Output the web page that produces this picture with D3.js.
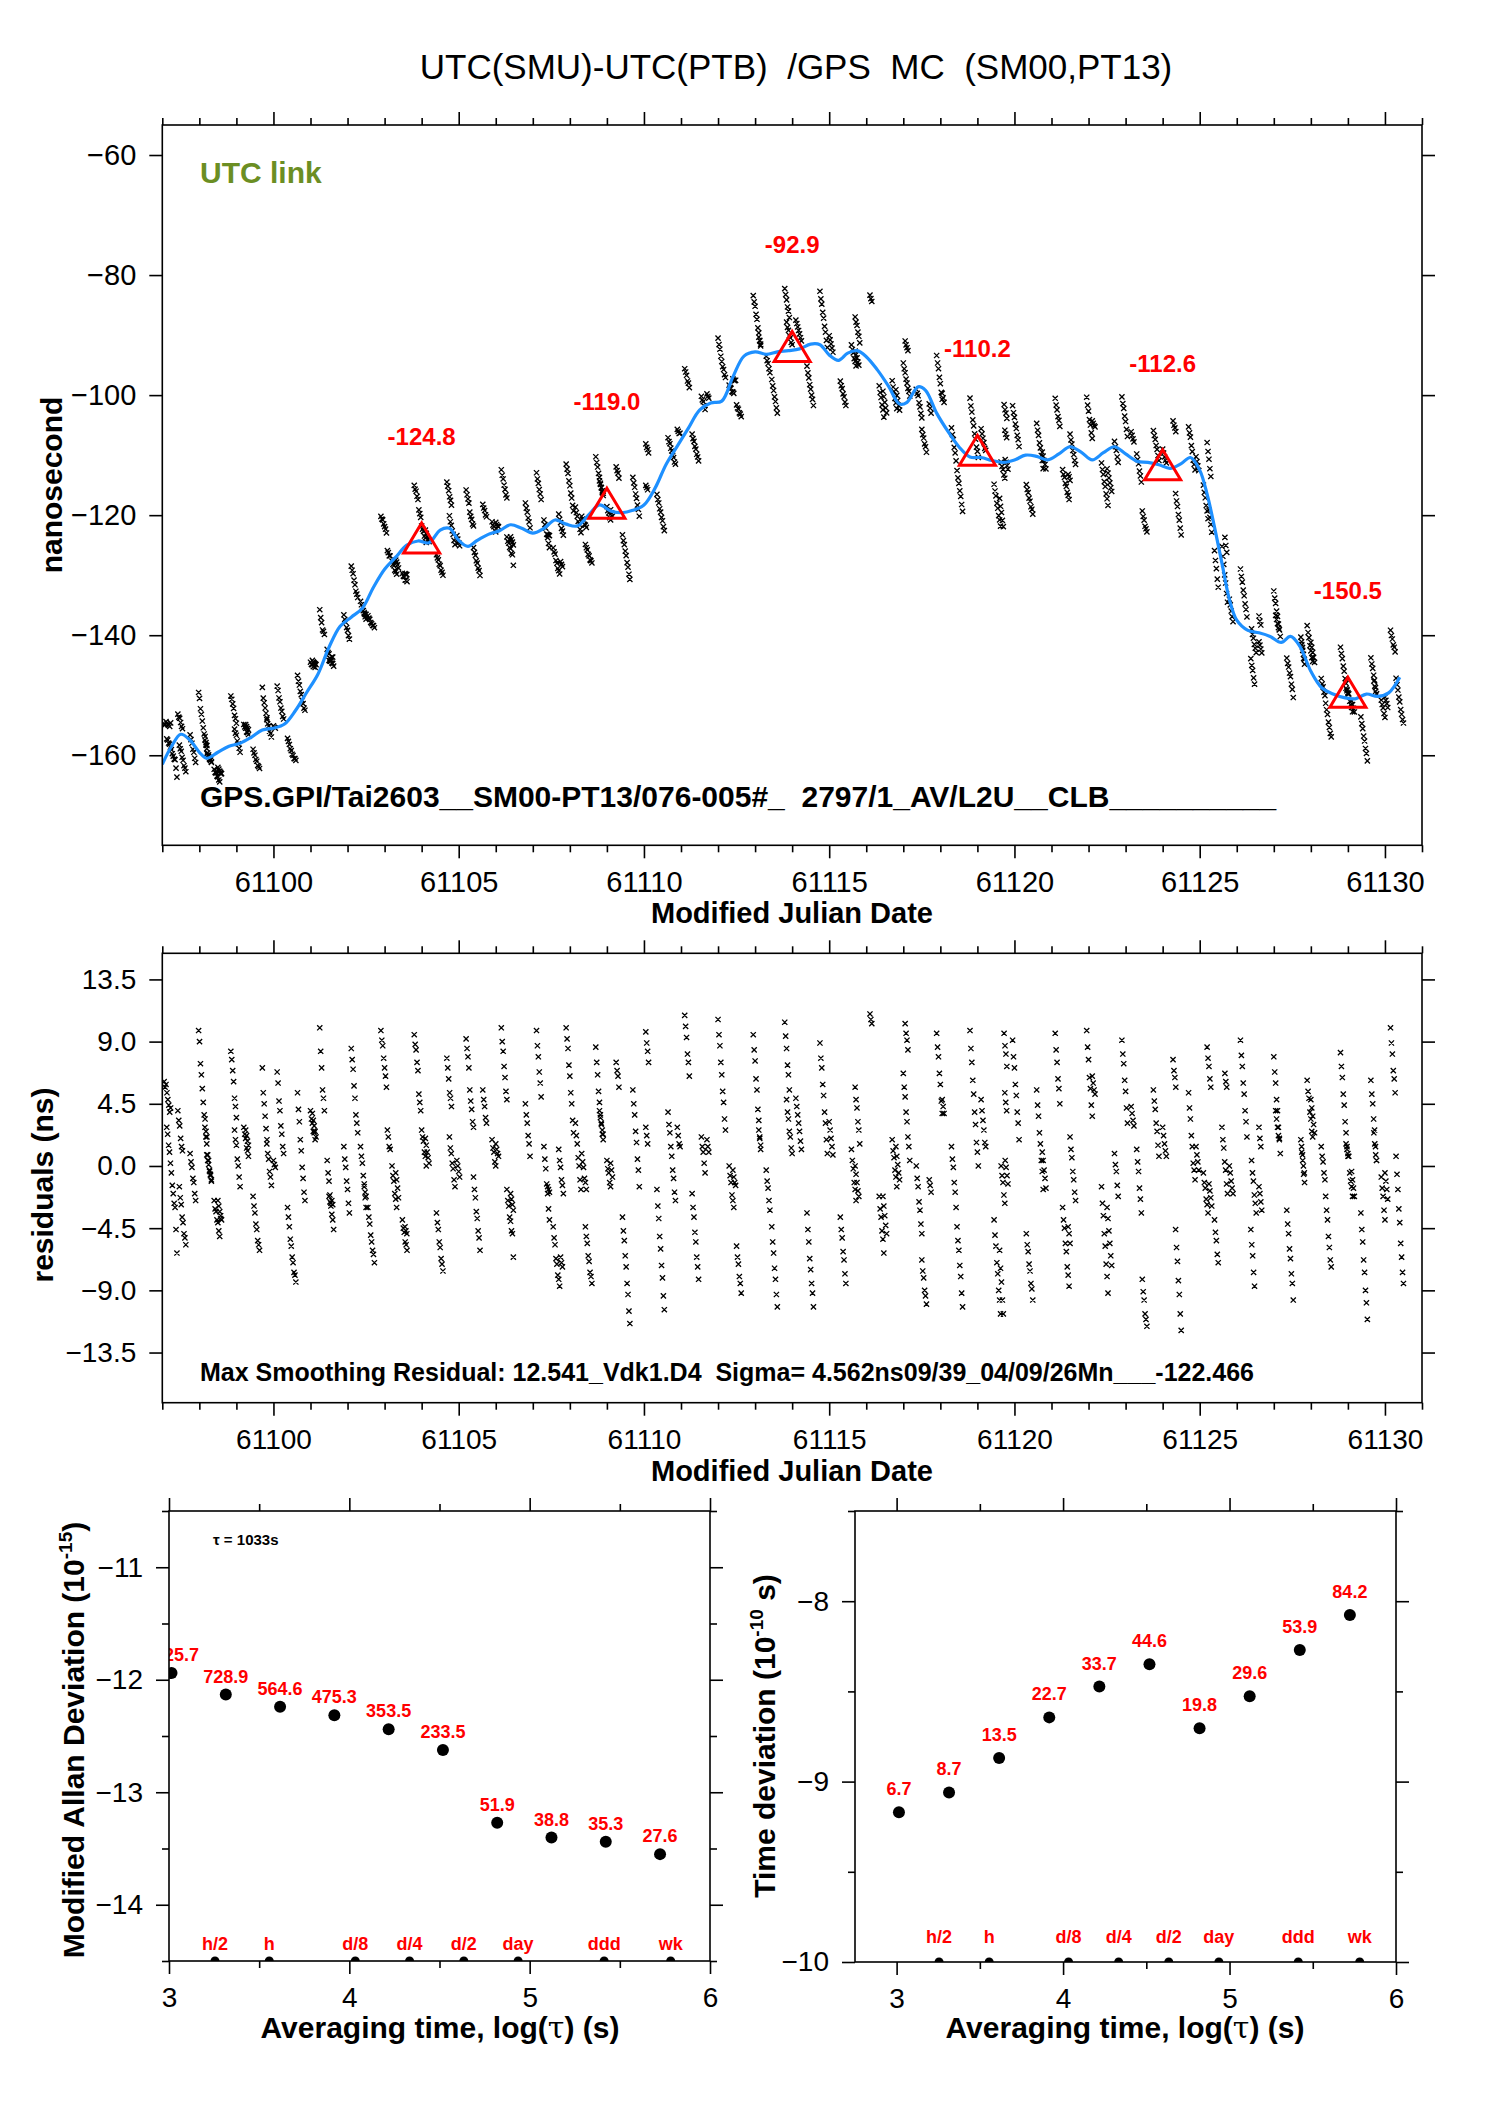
<!DOCTYPE html>
<html><head><meta charset="utf-8">
<script src="https://cdn.jsdelivr.net/npm/d3@7"></script>
<style>body{margin:0;background:#fff}</style>
</head><body><svg id="c" width="1488" height="2105" xmlns="http://www.w3.org/2000/svg"></svg>
<script>
// ---------------- DATA ----------------
const titleText = "UTC(SMU)-UTC(PTB)  /GPS  MC  (SM00,PT13)";
const footerText = "GPS.GPI/Tai2603__SM00-PT13/076-005#_  2797/1_AV/L2U__CLB__________";
const residText = "Max Smoothing Residual: 12.541_Vdk1.D4  Sigma= 4.562ns09/39_04/09/26Mn___-122.466";

const mjdTicks = [61100, 61105, 61110, 61115, 61120, 61125, 61130];
const nsTicks = [-60, -80, -100, -120, -140, -160];
const resTicks = [13.5, 9.0, 4.5, 0.0, -4.5, -9.0, -13.5];

// smoothed curve (MJD, ns)
const smoothT = [61097.0,61097.25,61097.5,61097.75,61098.0,61098.2,61098.5,61098.8,61099.1,61099.4,61099.7,61100.0,61100.3,61100.6,61100.9,61101.2,61101.5,61101.8,61102.1,61102.4,61102.7,61103.0,61103.3,61103.6,61103.9,61104.2,61104.5,61104.75,61105.0,61105.25,61105.5,61105.8,61106.1,61106.4,61106.7,61107.0,61107.3,61107.6,61107.9,61108.2,61108.5,61108.8,61109.1,61109.4,61109.7,61110.0,61110.3,61110.6,61110.9,61111.2,61111.5,61111.8,61112.1,61112.4,61112.7,61113.0,61113.3,61113.6,61113.9,61114.2,61114.5,61114.75,61115.0,61115.25,61115.5,61115.75,61116.0,61116.3,61116.6,61116.9,61117.1,61117.4,61117.6,61117.9,61118.2,61118.5,61118.8,61119.1,61119.4,61119.7,61120.0,61120.3,61120.6,61120.9,61121.2,61121.5,61121.8,61122.1,61122.4,61122.7,61123.0,61123.3,61123.6,61123.9,61124.2,61124.5,61124.75,61125.0,61125.2,61125.4,61125.6,61125.8,61126.0,61126.3,61126.6,61126.9,61127.2,61127.45,61127.7,61128.0,61128.3,61128.6,61128.9,61129.2,61129.5,61129.8,61130.1,61130.4];
const smoothV = [-161.5,-158.5,-156.5,-157.5,-159.5,-160.5,-159.5,-158.5,-158.0,-157.0,-155.8,-155.5,-154.8,-152.5,-149.5,-146.5,-142,-138.5,-137,-135.5,-132,-129,-127,-125,-124.3,-124.6,-122.5,-122.2,-124.2,-125.2,-124.2,-123.2,-122.6,-121.6,-122.2,-123.0,-122.2,-120.8,-121.5,-121.8,-120.0,-118.3,-119.3,-119.6,-119.2,-118.3,-115.5,-111.5,-108.5,-105.5,-102.5,-101.3,-101.0,-97,-93.5,-92.8,-93.2,-92.8,-92.6,-92.3,-91.5,-91.6,-93.3,-94.2,-93.0,-92.6,-93.6,-95.8,-98.5,-101.5,-101.2,-98.6,-99.2,-103,-106,-108.6,-110.3,-110.4,-110.9,-111.2,-110.8,-110.0,-110.2,-110.8,-109.8,-108.6,-109.5,-110.8,-109.6,-108.6,-109.8,-111.0,-111.2,-111.6,-112.2,-111.4,-110.4,-112.5,-116.5,-122,-128,-134,-137.5,-139.2,-139.6,-140.2,-141.2,-140.2,-141.8,-146,-148.8,-149.8,-150.4,-150.6,-149.8,-150.2,-149.6,-147];

// 5-day averages (triangles)
const avgT = [61104, 61109, 61114, 61119, 61124, 61129];
const avgV = [-124.8, -119.0, -92.9, -110.2, -112.6, -150.5];
const avgLabels = ["-124.8", "-119.0", "-92.9", "-110.2", "-112.6", "-150.5"];

// residual tracks: [start MJD, residual values (ns)] ; points spaced trackStep days
const trackStep = 0.025;
const tracks = [
[61097.05,[6.1,5.7,5.9,5.3,4.8,4.4,3.9,4.2]],
[61097.12,[2.8,2.3,1.5,1.0,0.2,-0.5,-1.4,-2.0,-2.7,-3.0,-4.6,-6.3]],
[61097.42,[4.0,3.3,2.9,2.0,1.4,1.1]],
[61097.46,[-1.5,-2.3,-2.8,-3.7,-4.1,-4.9,-5.2,-5.7]],
[61097.75,[0.9,0.3,-0.1,-0.9,-1.2,-2.0,-2.5]],
[61097.98,[9.8,9.0,7.4,6.6,5.6,4.6,3.7,3.4,2.5,2.1]],
[61098.15,[2.8,2.1,1.6,0.8,0.4,-0.4,-0.7,-1.1]],
[61098.40,[-2.5,-3.1,-3.3,-3.9,-4.1,-4.7,-5.1,-3.8]],
[61098.85,[8.3,7.7,6.9,6.1,4.9,4.3,3.5]],
[61098.95,[2.6,1.9,1.5,0.5,0.0,-0.8,-1.5]],
[61099.20,[2.8,2.3,2.0,1.3,1.1,0.7]],
[61099.45,[-2.2,-2.9,-3.4,-4.2,-4.6,-5.4,-5.7,-6.1]],
[61099.70,[7.1,5.3,4.5,3.6,2.7,1.9]],
[61099.82,[1.6,0.9,0.5,-0.4,-0.8,-1.4]],
[61100.10,[6.8,6.0,4.7,4.0,2.9,2.3,1.4,0.9]],
[61100.38,[-3.0,-3.7,-4.4,-5.3,-5.8,-6.6,-7.0,-7.7,-7.9,-8.4]],
[61100.65,[5.3,4.1,3.2,1.9,1.1,-0.1,-0.9,-1.9,-2.5]],
[61101.00,[4.0,3.4,3.1,2.5,2.4,1.9]],
[61101.25,[10.0,8.3,7.1,5.5,4.9,4.0]],
[61101.45,[0.4,-0.5,-1.1,-2.1,-2.7,-3.5,-3.9,-4.6]],
[61101.90,[1.4,0.5,-0.1,-1.1,-1.7,-2.7,-3.4]],
[61102.10,[8.5,7.7,7.0,5.8,4.9,3.7,3.1,2.4]],
[61102.35,[1.4,0.7,0.2,-0.7,-1.3,-2.3,-3.0]],
[61102.55,[-3.0,-3.7,-4.2,-5.0,-5.5,-6.1,-6.4,-7.0]],
[61102.90,[9.8,9.1,8.7,7.8,7.1,6.5,5.7,2.6,2.1,1.4,1.2]],
[61103.20,[0.0,-0.7,-1.1,-2.0,-2.4,-3.0]],
[61103.48,[-3.9,-4.5,-4.8,-5.5,-5.7,-6.1]],
[61103.80,[9.5,8.8,8.4,7.5,6.9,5.2,4.6,4.0]],
[61104.00,[2.6,2.1,1.8,1.0,0.7,0.0]],
[61104.40,[-3.4,-4.1,-4.6,-5.5,-5.9,-6.7,-7.1,-7.6]],
[61104.68,[7.8,7.1,6.3,5.3,4.9,4.3]],
[61104.75,[2.1,1.3,0.9,0.2,-0.2,-1.0,-1.5]],
[61105.20,[9.2,8.5,7.9,7.1,5.5,4.7,4.1,3.2,2.8]],
[61105.40,[-0.8,-1.7,-2.3,-3.3,-3.8,-4.7,-5.2,-6.1]],
[61105.65,[5.5,4.8,4.3,3.5,3.1]],
[61105.90,[1.9,1.3,1.0,0.3,0.0]],
[61106.15,[10.0,9.0,8.3,7.2,6.4,5.4,4.8]],
[61106.30,[-1.7,-2.5,-2.9,-3.7,-4.0,-4.7,-4.9,-6.6]],
[61106.80,[4.5,3.7,3.1,2.2,1.6,0.7]],
[61107.10,[9.8,8.7,7.9,6.8,6.0,5.0]],
[61107.30,[1.4,0.5,-0.2,-1.3,-2.0,-3.1,-3.9]],
[61107.55,[-4.4,-5.2,-5.7,-6.7,-7.1,-7.9,-8.2,-8.7]],
[61107.70,[1.2,0.4,-0.1,-1.0,-1.4,-2.0]],
[61107.90,[10.0,9.2,8.5,7.3,6.5,5.3,4.5,3.3,2.4]],
[61108.15,[3.1,2.2,1.6,0.6,0.0,-1.0,-1.7]],
[61108.32,[0.9,0.3,-0.1,-0.9,-1.2,-1.7]],
[61108.42,[-4.4,-5.1,-5.6,-6.5,-6.9,-7.7,-8.0,-8.5]],
[61108.70,[8.6,7.5,6.6,5.4,4.6,3.7,3.1,2.3,1.9]],
[61109.00,[0.4,-0.2,-0.5,-1.2,-1.5]],
[61109.25,[7.5,6.9,6.5,5.7]],
[61109.42,[-3.7,-4.7,-5.4,-6.5,-7.3,-8.5,-9.3,-10.5,-11.4]],
[61109.70,[5.5,4.5,3.7,2.5,1.7,0.5,-0.3,-1.5]],
[61110.05,[9.7,8.9,8.3,7.5]],
[61110.35,[-1.7,-2.9,-3.8,-5.1,-6.0,-7.2,-8.1,-9.4,-10.4]],
[61110.65,[3.9,3.0,2.4,1.4,0.7,-0.3,-0.9,-1.9,-2.5]],
[61111.10,[10.9,10.1,9.3,8.1,7.5,6.5]],
[61111.30,[-2.0,-3.0,-3.7,-4.8,-5.5,-6.6,-7.3,-8.2]],
[61111.55,[2.1,1.4,1.0,0.2,-0.5]],
[61112.00,[10.6,9.5,8.7,7.5,6.6,5.4,4.6,3.4,2.6]],
[61112.30,[0.0,-0.7,-1.2,-2.1,-2.5,-3.0]],
[61112.50,[-5.8,-6.6,-7.1,-8.0,-8.5,-9.2]],
[61112.95,[9.5,8.4,7.6,6.3,5.5,4.1,3.3,2.1,1.2]],
[61113.30,[-0.3,-1.1,-1.6,-2.5,-3.2]],
[61113.45,[-4.4,-5.5,-6.3,-7.4,-8.2,-9.3,-10.2]],
[61113.80,[10.4,9.4,8.5,7.3,6.6,5.5]],
[61113.85,[4.8,3.9,3.4,2.5,2.1,1.3,0.9]],
[61114.40,[-3.4,-4.6,-5.5,-6.7,-7.5,-8.5,-9.2,-10.2]],
[61114.75,[8.9,7.8,7.1,5.9,5.1,3.9,3.1,1.9,0.9]],
[61115.30,[-3.7,-4.6,-5.2,-6.2,-6.8,-7.8,-8.5]],
[61115.60,[1.2,0.4,-0.2,-1.2,-1.7,-2.5]],
[61115.70,[5.7,4.8,4.2,3.2,2.6,1.6]],
[61116.10,[11.0,10.6,10.3]],
[61116.35,[-2.2,-3.1,-3.7,-4.7,-5.3,-6.3]],
[61116.70,[1.9,1.1,0.6,-0.3,-0.8,-1.5]],
[61117.05,[10.3,9.6,9.1,8.4]],
[61117.00,[6.7,5.7,5.0,3.9,3.2,2.1,1.4,0.4]],
[61117.35,[0.0,-0.9,-1.5,-2.6,-3.2,-4.2,-4.9]],
[61117.50,[-6.8,-7.6,-8.1,-9.0,-9.4,-10.0]],
[61117.90,[9.6,8.6,7.9,6.7,5.9,4.7,3.8]],
[61118.30,[1.4,0.5,-0.1,-1.2,-1.9,-3.0]],
[61118.45,[-4.4,-5.4,-6.1,-7.2,-8.0,-9.2,-10.2]],
[61118.80,[9.8,8.5,7.5,6.2,5.2,3.9,3.0,1.7,1.0,0.0]],
[61119.45,[-3.9,-5.0,-5.8,-7.0,-7.8,-9.0,-9.7,-10.7]],
[61119.64,[0.0,-0.7,-1.2,-2.1,-2.7]],
[61119.72,[9.6,8.7,8.1,7.2]],
[61119.74,[5.3,4.6,4.0]],
[61119.60,[-6.1,-7.4,-8.4,-9.7,-10.7]],
[61119.95,[9.1,7.9,7.1,5.9,5.1,3.9,3.1,1.9]],
[61120.32,[-4.9,-5.7,-6.2,-7.1,-7.6,-8.5,-8.9,-9.7]],
[61120.60,[5.5,4.4,3.6,2.4,1.6,0.4,-0.4,-1.7]],
[61121.10,[9.6,8.4,7.5,6.3,5.6,4.5]],
[61121.30,[-3.0,-3.9,-4.5,-5.6,-6.2,-7.3,-7.9,-8.7]],
[61121.50,[2.1,1.2,0.6,-0.4,-1.0,-1.9,-2.5]],
[61121.95,[9.8,8.6,7.7,6.4,5.6,4.4,3.6]],
[61122.35,[-1.5,-2.7,-3.6,-4.9,-5.8,-7.1,-8.0,-9.2]],
[61122.70,[0.9,0.1,-0.4,-1.4,-2.2]],
[61122.90,[9.1,8.1,7.4,6.2,5.4,4.2,3.1]],
[61123.30,[1.2,0.3,-0.4,-1.6,-2.4,-3.4]],
[61123.45,[-8.2,-9.1,-9.7,-10.7,-11.1,-11.6]],
[61123.75,[5.5,4.7,4.1,3.1,2.5,1.5,0.7]],
[61124.28,[7.7,6.9,6.4,5.7]],
[61124.35,[-4.6,-5.9,-6.9,-8.3,-9.3,-10.7,-11.9]],
[61124.70,[5.3,4.2,3.4,2.2,1.4,0.2,-0.3,-1.0]],
[61125.10,[-0.5,-1.2,-1.6,-2.4,-2.8,-3.4]],
[61125.20,[8.6,7.8,7.2,6.3,5.7]],
[61125.40,[-3.9,-4.8,-5.4,-6.4,-7.0]],
[61125.60,[2.8,1.9,1.3,0.3,-0.3,-1.3,-2.0]],
[61125.68,[6.7,6.1,5.7]],
[61126.10,[9.1,8.0,7.2,6.0,5.2,4.0,3.2,2.1]],
[61126.40,[0.4,-0.5,-1.1,-2.1,-2.7,-3.4]],
[61126.38,[-4.6,-5.7,-6.5,-7.7,-8.7]],
[61126.60,[2.8,2.0,1.4]],
[61127.00,[7.9,6.8,6.0,4.8,4.0,2.8,2.0,0.9]],
[61127.35,[-3.2,-4.2,-4.9,-6.0,-6.7,-7.8,-8.5,-9.7]],
[61127.73,[1.9,1.0,0.4,-0.6,-1.2]],
[61127.90,[6.2,5.4,4.9,3.9,3.4,2.5,2.1]],
[61128.28,[1.4,0.7,0.3,-0.5,-1.0]],
[61128.40,[-2.2,-3.2,-3.9,-5.1,-5.9,-6.8,-7.3]],
[61128.80,[8.2,7.2,6.4,5.2,4.4,3.2,2.4,1.4,0.7]],
[61129.05,[-0.5,-1.1,-1.5,-2.2]],
[61129.35,[-3.4,-4.6,-5.5,-6.8,-7.7,-9.0,-9.9,-11.1]],
[61129.62,[6.2,5.2,4.5,3.4,2.6,1.4,0.4]],
[61129.90,[-0.8,-1.6,-2.2,-3.2,-3.9]],
[61130.15,[10.0,8.9,8.1,6.9,6.3,5.3]],
[61130.30,[0.7,-0.6,-1.7,-3.1,-4.1,-5.6,-6.6,-7.7,-8.5]],
// dense mid-range clusters
[61098.20,[0.8,0.4,0.1,-0.3,-0.6,-1.0]],
[61098.50,[-2.5,-2.9,-3.3,-3.6,-3.9]],
[61099.25,[2.6,2.2,1.8,1.5]],
[61100.00,[0.4,0.1,-0.1]],
[61101.05,[3.8,3.3,2.9,2.5,2.1]],
[61101.50,[-2.2,-2.6,-2.9,-2.5,-2.8]],
[61102.45,[-1.5,-1.9,-2.2]],
[61103.30,[-0.5,-1.0,-1.6,-2.3]],
[61103.55,[-4.4,-4.7,-4.9]],
[61104.10,[2.0,1.5,1.0,0.6,0.2]],
[61104.95,[0.4,0.0,-0.4,-0.8]],
[61106.00,[1.6,1.2,0.9,0.7]],
[61106.40,[-2.0,-2.4,-2.8,-3.2]],
[61107.40,[-1.5,-1.7,-1.9]],
[61107.75,[-6.6,-7.0,-7.3]],
[61108.80,[4.0,3.5,3.0,2.6,2.3]],
[61109.10,[0.2,-0.3,-0.8]],
[61110.05,[2.8,2.2,1.6]],
[61110.90,[2.8,2.2,1.6,1.4]],
[61111.70,[1.9,1.4,1.0]],
[61112.40,[-0.3,-0.8,-1.2,-1.4]],
[61113.10,[2.6,2.0,1.5]],
[61114.10,[4.9,4.3,3.7,3.1,2.5,1.8,1.2]],
[61115.00,[3.2,2.6,2.0,1.4,0.8]],
[61115.70,[0.0,-0.6,-1.2,-1.8,-2.2]],
[61116.45,[-2.2,-2.9,-3.6,-4.3,-4.9]],
[61116.80,[1.4,0.7,0.1,-0.5,-1.0]],
[61117.70,[-1.0,-1.4,-1.9]],
[61118.05,[4.8,4.3,3.8]],
[61119.10,[4.8,4.0,3.3,2.6,1.7,1.4]],
[61119.75,[0.4,-0.1,-0.7,-1.3]],
[61120.75,[1.0,0.4,-0.3,-0.9,-1.6]],
[61121.45,[-4.4,-4.9,-5.6]],
[61122.10,[6.5,6.0,5.5,5.2]],
[61122.50,[-3.0,-3.8,-4.7,-5.6,-6.5,-7.2]],
[61123.15,[4.3,3.8,3.3,2.9]],
[61124.00,[2.8,2.2,1.6,1.1,0.7]],
[61124.90,[1.4,0.8,0.3,-0.3]],
[61125.25,[-1.3,-1.8,-2.3,-2.9]],
[61125.80,[0.0,-0.5,-1.1,-1.6,-2.0]],
[61126.60,[-1.5,-2.0,-2.6,-3.2]],
[61127.05,[4.0,3.4,2.8,2.2,1.9]],
[61127.75,[1.4,0.8,0.0,-0.5]],
[61128.00,[4.8,4.2,3.6,3.0,2.4]],
[61128.95,[1.6,1.2,0.9,0.7]],
[61129.10,[-0.4,-1.0,-1.6,-2.2]],
[61130.00,[-0.5,-1.1,-1.7,-2.4]],
[61129.70,[2.4,1.6,0.8,0.4]]
];

// stability analysis
const logTau = [3.014, 3.315, 3.616, 3.917, 4.218, 4.519, 4.820, 5.121, 5.422, 5.723];
const madev = [-11.941, -12.132, -12.241, -12.315, -12.441, -12.624, -13.271, -13.403, -13.440, -13.550];
const madevLabels = ["1025.7", "728.9", "564.6", "475.3", "353.5", "233.5", "51.9", "38.8", "35.3", "27.6"];
const tdev = [-9.170, -9.060, -8.869, -8.644, -8.473, -8.350, -8.704, -8.527, -8.270, -8.077];
const tdevLabels = ["6.7", "8.7", "13.5", "22.7", "33.7", "44.6", "19.8", "29.6", "53.9", "84.2"];
const markNames = ["h/2", "h", "d/8", "d/4", "d/2", "day", "ddd", "wk"];
const markLogTau = [3.255, 3.556, 4.033, 4.334, 4.635, 4.936, 5.413, 5.782];
const tauTicks = [3, 4, 5, 6];
const tauMinor = [3.5, 4.5, 5.5];
const madevTicks = [-11, -12, -13, -14];
const madevMinor = [-10.5, -11.5, -12.5, -13.5, -14.5];
const tdevTicks = [-8, -9, -10];
const tdevMinor = [-7.5, -8.5, -9.5];

// ---------------- DRAW ----------------
const F = '"Liberation Sans", Arial, Helvetica, sans-serif';
const svg = d3.select("#c");
svg.append("rect").attr("width", 1488).attr("height", 2105).attr("fill", "#fff");

const xTop = d3.scaleLinear([61097, 61131], [162.3, 1422]);
const yTop = d3.scaleLinear([-175, -55], [845.3, 125]);
const yRes = d3.scaleLinear([-17.13, 15.39], [1402.7, 953.3]);
const xBL = d3.scaleLinear([3, 6], [169, 710]);
const yBL = d3.scaleLinear([-14.5, -10.5], [1961, 1511]);
const xBR = d3.scaleLinear([2.75, 6], [855, 1396]);
const yBR = d3.scaleLinear([-10, -7.5], [1962, 1511]);
const smoothAt = d3.scaleLinear(smoothT, smoothV);

const defs = svg.append("defs");
function clip(id, x, y) {
  const [a, b] = x.range(), [c, d] = y.range();
  defs.append("clipPath").attr("id", id).append("rect")
    .attr("x", a).attr("y", d).attr("width", b - a).attr("height", c - d);
  return `url(#${id})`;
}

function axes(p) {
  const [x0, x1] = p.x.range(), [y0, y1] = p.y.range();
  const g = svg.append("g");
  const mk = (gen, tr, vals, size, fmt) => {
    const a = g.append("g").attr("transform", tr)
      .call(gen.tickValues(vals).tickSize(size).tickSizeOuter(0).tickPadding(size === 13 ? p.pad : 3)
        .tickFormat(fmt || (() => "")));
    a.select(".domain").remove();
    a.selectAll("line").attr("stroke", "#000").attr("stroke-width", 1.6);
    a.selectAll("text").attr("font-size", p.fs).attr("font-family", F).attr("fill", "#000");
  };
  mk(d3.axisBottom(p.x), `translate(0,${y0})`, p.xMajor, 13, p.xFmt);
  mk(d3.axisBottom(p.x), `translate(0,${y0})`, p.xMinor, 7);
  mk(d3.axisTop(p.x), `translate(0,${y1})`, p.xMajor, 13);
  mk(d3.axisTop(p.x), `translate(0,${y1})`, p.xMinor, 7);
  mk(d3.axisLeft(p.y), `translate(${x0},0)`, p.yMajor, 13, p.yFmt);
  mk(d3.axisRight(p.y), `translate(${x1},0)`, p.yMajor, 13);
  if (p.yMinor) {
    mk(d3.axisLeft(p.y), `translate(${x0},0)`, p.yMinor, 7);
    mk(d3.axisRight(p.y), `translate(${x1},0)`, p.yMinor, 7);
  }
  g.append("rect").attr("x", x0).attr("y", y1).attr("width", x1 - x0).attr("height", y0 - y1)
    .attr("fill", "none").attr("stroke", "#000").attr("stroke-width", 1.6);
}

function text(x, y, s, o = {}) {
  const t = svg.append("text").attr("x", x).attr("y", y).text(s)
    .attr("font-family", F).attr("font-size", o.fs || 28).attr("fill", o.fill || "#000")
    .attr("font-weight", o.bold ? "bold" : "normal").attr("text-anchor", o.anchor || "start")
    .style("white-space", "pre");
  if (o.rot) t.attr("transform", `rotate(-90,${x},${y})`);
  return t;
}
function crosses(pts, cl) {
  const h = 2.6;
  const p = d3.path();
  pts.forEach(([x, y]) => { p.moveTo(x - h, y - h); p.lineTo(x + h, y + h); p.moveTo(x - h, y + h); p.lineTo(x + h, y - h); });
  svg.append("path").attr("d", p.toString()).attr("fill", "none").attr("stroke", "#000")
    .attr("stroke-width", 1.3).attr("clip-path", cl);
}

// flatten residual tracks
const resPts = [];
tracks.forEach(([t0, vals]) => vals.forEach((v, i) => resPts.push([t0 + i * trackStep, v])));

// ---------- Title ----------
text(796, 79, titleText, { fs: 35, anchor: "middle" });

// ---------- Panel 1 ----------
const c1 = clip("c1", xTop, yTop);
crosses(resPts.map(([t, r]) => [xTop(t), yTop(smoothAt(t) + r)]), c1);
svg.append("path").datum(smoothT.map((t, i) => [t, smoothV[i]]))
  .attr("d", d3.line().x(d => xTop(d[0])).y(d => yTop(d[1])).curve(d3.curveCatmullRom))
  .attr("fill", "none").attr("stroke", "#1e90ff").attr("stroke-width", 3.2).attr("clip-path", c1);
avgT.forEach((t, i) => {
  const x = xTop(t), y = yTop(avgV[i]);
  const p = d3.path(); p.moveTo(x, y - 21); p.lineTo(x + 18, y + 9); p.lineTo(x - 18, y + 9); p.closePath();
  svg.append("path").attr("d", p.toString()).attr("fill", "none").attr("stroke", "#ff0000").attr("stroke-width", 3);
  text(x, y - 99, avgLabels[i], { fs: 24, bold: true, fill: "#ff0000", anchor: "middle" });
});
axes({ x: xTop, y: yTop, xMajor: mjdTicks, xMinor: d3.range(61097, 61132).filter(d => d % 5 !== 0),
  yMajor: nsTicks, xFmt: d3.format("d"), yFmt: d3.format("d"), fs: 29, pad: 13 });
text(200, 183, "UTC link", { fs: 30, bold: true, fill: "#6b8e23" });
text(200, 807, footerText, { fs: 30, bold: true });
text(792, 923, "Modified Julian Date", { fs: 29, bold: true, anchor: "middle" });
text(62, 485, "nanosecond", { fs: 30, bold: true, anchor: "middle", rot: true });

// ---------- Panel 2 ----------
const c2 = clip("c2", xTop, yRes);
crosses(resPts.map(([t, r]) => [xTop(t), yRes(r)]), c2);
axes({ x: xTop, y: yRes, xMajor: mjdTicks, xMinor: d3.range(61097, 61132).filter(d => d % 5 !== 0),
  yMajor: resTicks, xFmt: d3.format("d"), yFmt: d3.format(".1f"), fs: 28, pad: 13 });
text(200, 1381, residText, { fs: 25, bold: true });
text(792, 1481, "Modified Julian Date", { fs: 29, bold: true, anchor: "middle" });
text(53, 1185, "residuals (ns)", { fs: 30, bold: true, anchor: "middle", rot: true });

// ---------- Panel 3 / 4 ----------
function stab(x, y, vals, labels, id, lblOff, markOff) {
  const cl = clip(id, x, y);
  const g = svg.append("g").attr("clip-path", cl);
  const yb = y.range()[0];
  markLogTau.forEach((m, i) => {
    g.append("circle").attr("cx", x(m)).attr("cy", yb).attr("r", 4.5).attr("fill", "#000");
    g.append("text").attr("x", x(m)).attr("y", yb - markOff).text(markNames[i])
      .attr("font-family", F).attr("font-size", 18).attr("font-weight", "bold").attr("fill", "#ff0000").attr("text-anchor", "middle");
  });
  logTau.forEach((t, i) => {
    g.append("circle").attr("cx", x(t)).attr("cy", y(vals[i])).attr("r", 6).attr("fill", "#000");
    g.append("text").attr("x", x(t)).attr("y", y(vals[i]) - lblOff).text(labels[i])
      .attr("font-family", F).attr("font-size", 18).attr("font-weight", "bold").attr("fill", "#ff0000").attr("text-anchor", "middle");
  });
}
stab(xBL, yBL, madev, madevLabels, "c3", 12, 11);
axes({ x: xBL, y: yBL, xMajor: tauTicks, xMinor: tauMinor, yMajor: madevTicks, yMinor: madevMinor,
  xFmt: d3.format("d"), yFmt: d3.format("d"), fs: 28, pad: 13 });
stab(xBR, yBR, tdev, tdevLabels, "c4", 17, 19);
axes({ x: xBR, y: yBR, xMajor: tauTicks, xMinor: tauMinor, yMajor: tdevTicks, yMinor: tdevMinor,
  xFmt: d3.format("d"), yFmt: d3.format("d"), fs: 28, pad: 13 });

text(213, 1545, "\u03c4 = 1033s", { fs: 15, bold: true });

function tauTitle(cx) {
  const t = text(cx, 2038, "", { fs: 30, bold: true, anchor: "middle" });
  t.append("tspan").text("Averaging time, log(");
  t.append("tspan").text("\u03c4").attr("font-weight", "normal").attr("font-family", '"DejaVu Serif", serif');
  t.append("tspan").text(") (s)");
}
tauTitle(440);
tauTitle(1125);

function supTitle(x, y, pre, sup, post) {
  const t = text(x, y, "", { fs: 30, bold: true, anchor: "middle", rot: true });
  t.append("tspan").text(pre);
  t.append("tspan").text(sup).attr("font-size", 19).attr("dy", -12);
  t.append("tspan").text(post).attr("dy", 12);
}
supTitle(84, 1740, "Modified Allan Deviation (10", "-15", ")");
supTitle(775, 1736, "Time deviation (10", "-10", " s)");
</script>
</body></html>
